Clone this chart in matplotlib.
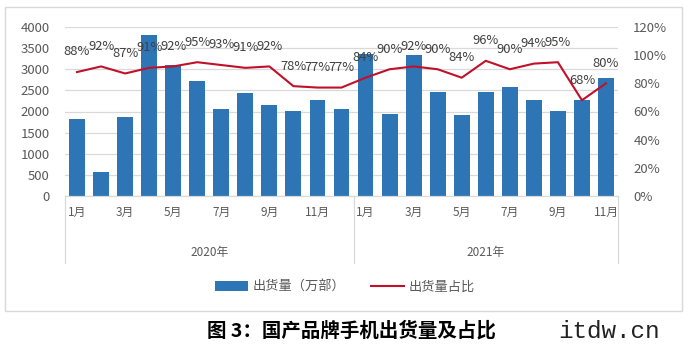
import matplotlib
matplotlib.use("Agg")
import matplotlib.pyplot as plt
import matplotlib.transforms as mtransforms
from matplotlib.patches import Rectangle, Patch
from matplotlib.lines import Line2D

plt.rcParams['font.family'] = ['Noto Sans CJK SC', 'DejaVu Sans']

# data
years = ["2020年", "2021年"]
months_per_year = [12, 11]
shipments = [1830, 570, 1880, 3800, 3090, 2720, 2060, 2440, 2150, 2020, 2270, 2050,
             3370, 1950, 3330, 2470, 1920, 2460, 2580, 2280, 2020, 2280, 2800]
share = [88, 92, 87, 91, 92, 95, 93, 91, 92, 78, 77, 77,
         84, 90, 92, 90, 84, 96, 90, 94, 95, 68, 80]

bar_color = "#2E75B6"
line_color = "#C0102A"
grid_color = "#D9D9D9"
text_color = "#595959"

fig = plt.figure(figsize=(6.91, 3.57), dpi=100)
ax = fig.add_axes([65 / 691, 1 - 196 / 357, 553 / 691, 169 / 357])
ax2 = ax.twinx()

x = list(range(len(shipments)))
ax.bar(x, shipments, width=0.66, color=bar_color, zorder=2)
ax.set_ylim(0, 4000)
ax.set_yticks(range(0, 4001, 500))
ax.set_xlim(-0.5, len(shipments) - 0.5)
ax.grid(axis="y", color=grid_color, lw=0.9, zorder=0)
ax.set_axisbelow(True)

ax2.plot(x, share, color=line_color, lw=1.5, zorder=3)
ax2.set_ylim(0, 120)
ax2.set_yticks(range(0, 121, 20))
ax2.set_yticklabels([f"{v}%" for v in range(0, 121, 20)])
for xi, v in zip(x, share):
    ax2.annotate(f"{v}%", (xi, v), xytext=(0, 14.5), textcoords="offset points",
                 ha="center", va="center", fontsize=9.3, color="#404040")

for a in (ax, ax2):
    for s in ("top", "left", "right"):
        a.spines[s].set_visible(False)
    a.spines["bottom"].set_color(grid_color)
    a.tick_params(axis="y", length=0, labelsize=9.5, labelcolor=text_color, pad=11)

# month labels (odd months only)
ticks, labels = [], []
start = 0
for n in months_per_year:
    for m in range(1, n + 1, 2):
        ticks.append(start + m - 1)
        labels.append(f"{m}月")
    start += n
ax.set_xticks(ticks)
ax.set_xticklabels(labels)
ax.tick_params(axis="x", length=0, labelsize=8.5, labelcolor=text_color, pad=7)

# year groups and separators
trans = mtransforms.blended_transform_factory(ax.transData, ax.transAxes)
start = 0
bounds = [-0.5]
for yr, n in zip(years, months_per_year):
    ax.text(start + (n - 1) / 2, -0.337, yr, transform=trans, ha="center", va="center",
            fontsize=8.5, color=text_color)
    start += n
    bounds.append(start - 0.5)
for b in bounds:
    ax.add_line(Line2D([b, b], [0, -0.396], transform=trans, color=grid_color,
                       lw=0.9, clip_on=False))

# legend
handles = [Patch(facecolor=bar_color, edgecolor="none"),
           Line2D([0], [0], color=line_color, lw=1.5)]
fig.legend(handles, ["出货量（万部）", "出货量占比"], loc="center",
           bbox_to_anchor=(345 / 691, 1 - 287 / 357), ncol=2, frameon=False,
           fontsize=9.5, labelcolor=text_color, handlelength=2.5, handleheight=0.7,
           columnspacing=2.0, handletextpad=0.3)

# outer border
fig.add_artist(Rectangle((5 / 691, 1 - 311 / 357), 677 / 691, 304 / 357,
                         transform=fig.transFigure, fill=False, edgecolor=grid_color, lw=1))

fig.text(351 / 691, 1 - 331 / 357, "图 3：国产品牌手机出货量及占比", ha="center", va="center",
         fontsize=14, fontweight="heavy", color="black")
fig.text(558 / 691, 1 - 332 / 357, "itdw.cn", ha="left", va="center",
         fontsize=17.5, family="Liberation Mono", color="#222222")

fig.savefig("out.png", dpi=100)
